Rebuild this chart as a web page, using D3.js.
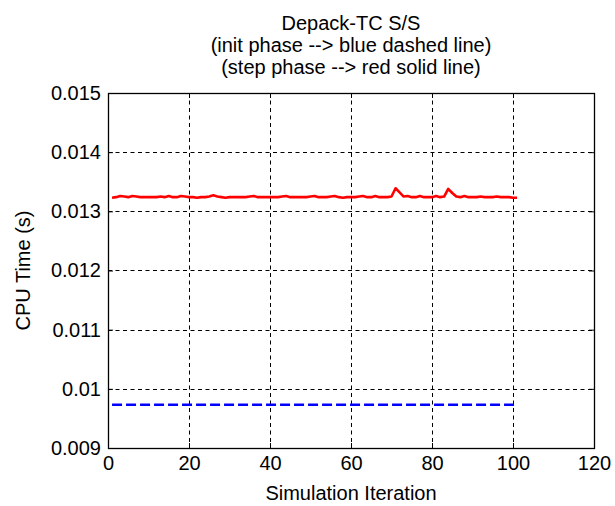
<!DOCTYPE html>
<html>
<head>
<meta charset="utf-8">
<script src="https://cdn.jsdelivr.net/npm/d3@7"></script>
<style>
  body { margin: 0; background: #fff; }
  text { font-family: "Liberation Sans", Arial, sans-serif; fill: #000; }
</style>
</head>
<body>
<script>
var titleLines = ["Depack-TC S/S",
                  "(init phase --> blue dashed line)",
                  "(step phase --> red solid line)"];
var xLabel = "Simulation Iteration",
    yLabel = "CPU Time (s)";
var xTicks = [0, 20, 40, 60, 80, 100, 120];
var yTicks = [0.009, 0.01, 0.011, 0.012, 0.013, 0.014, 0.015];
var yTickLabels = ["0.009", "0.01", "0.011", "0.012", "0.013", "0.014", "0.015"];

var iterations = [
  1, 2, 3, 4, 5, 6, 7, 8, 9, 10,
  11, 12, 13, 14, 15, 16, 17, 18, 19, 20,
  21, 22, 23, 24, 25, 26, 27, 28, 29, 30,
  31, 32, 33, 34, 35, 36, 37, 38, 39, 40,
  41, 42, 43, 44, 45, 46, 47, 48, 49, 50,
  51, 52, 53, 54, 55, 56, 57, 58, 59, 60,
  61, 62, 63, 64, 65, 66, 67, 68, 69, 70,
  71, 72, 73, 74, 75, 76, 77, 78, 79, 80,
  81, 82, 83, 84, 85, 86, 87, 88, 89, 90,
  91, 92, 93, 94, 95, 96, 97, 98, 99, 100, 101];

// step phase (red solid)
var stepTimes = [
  0.01323, 0.01324, 0.01326, 0.01325, 0.01324, 0.01326, 0.01325, 0.01324, 0.01324, 0.01324,
  0.01324, 0.01324, 0.01325, 0.01324, 0.01326, 0.01324, 0.01324, 0.01326, 0.01325, 0.01324,
  0.01324, 0.01323, 0.01324, 0.01324, 0.01325, 0.01327, 0.01325, 0.01324, 0.01323, 0.01324,
  0.01324, 0.01324, 0.01324, 0.01324, 0.01325, 0.01326, 0.01324, 0.01324, 0.01324, 0.01324,
  0.01324, 0.01324, 0.01325, 0.01326, 0.01324, 0.01324, 0.01324, 0.01324, 0.01324, 0.01325,
  0.01326, 0.01324, 0.01324, 0.01324, 0.01325, 0.01326, 0.01324, 0.01323, 0.01324, 0.01324,
  0.01324, 0.01325, 0.01326, 0.01324, 0.01324, 0.01326, 0.01324, 0.01324, 0.01324, 0.01325,
  0.01339, 0.01332, 0.01325, 0.01326, 0.01324, 0.01324, 0.01326, 0.01324, 0.01324, 0.01324,
  0.01326, 0.01324, 0.01325, 0.01338, 0.01331, 0.01325, 0.01324, 0.01326, 0.01324, 0.01324,
  0.01324, 0.01325, 0.01324, 0.01324, 0.01324, 0.01325, 0.01324, 0.01324, 0.01324, 0.01323, 0.01323];

// init phase (blue dashed)
var initTimes = [
  0.00973, 0.00973, 0.00973, 0.00973, 0.00973, 0.00973, 0.00973, 0.00973, 0.00973, 0.00973,
  0.00973, 0.00973, 0.00973, 0.00973, 0.00973, 0.00973, 0.00973, 0.00973, 0.00973, 0.00973,
  0.00973, 0.00973, 0.00973, 0.00973, 0.00973, 0.00973, 0.00973, 0.00973, 0.00973, 0.00973,
  0.00973, 0.00973, 0.00973, 0.00973, 0.00973, 0.00973, 0.00973, 0.00973, 0.00973, 0.00973,
  0.00973, 0.00973, 0.00973, 0.00973, 0.00973, 0.00973, 0.00973, 0.00973, 0.00973, 0.00973,
  0.00973, 0.00973, 0.00973, 0.00973, 0.00973, 0.00973, 0.00973, 0.00973, 0.00973, 0.00973,
  0.00973, 0.00973, 0.00973, 0.00973, 0.00973, 0.00973, 0.00973, 0.00973, 0.00973, 0.00973,
  0.00973, 0.00973, 0.00973, 0.00973, 0.00973, 0.00973, 0.00973, 0.00973, 0.00973, 0.00973,
  0.00973, 0.00973, 0.00973, 0.00973, 0.00973, 0.00973, 0.00973, 0.00973, 0.00973, 0.00973,
  0.00973, 0.00973, 0.00973, 0.00973, 0.00973, 0.00973, 0.00973, 0.00973, 0.00973, 0.00973, 0.00973];

var W = 615, H = 506,
    fontSize = "20px";
// note: "top" is a read-only window global, so use pX names
var pLeft = 108, pRight = 594, pTop = 93, pBottom = 448;

var svg = d3.select("body").append("svg")
    .attr("width", W)
    .attr("height", H);

var x = d3.scaleLinear().domain([0, 120]).range([pLeft, pRight]);
var y = d3.scaleLinear().domain([0.009, 0.015]).range([pBottom, pTop]);

// grid (dotted)
svg.append("g").selectAll("line")
    .data(xTicks.slice(1, -1))
  .enter().append("line")
    .attr("x1", function(d) { return Math.round(x(d)) + 0.5; })
    .attr("x2", function(d) { return Math.round(x(d)) + 0.5; })
    .attr("y1", pTop).attr("y2", pBottom)
    .style("stroke", "#000").style("stroke-dasharray", "4,3.5");

svg.append("g").selectAll("line")
    .data(yTicks.slice(1, -1))
  .enter().append("line")
    .attr("y1", function(d) { return Math.round(y(d)) + 0.5; })
    .attr("y2", function(d) { return Math.round(y(d)) + 0.5; })
    .attr("x1", pLeft).attr("x2", pRight)
    .style("stroke", "#000").style("stroke-dasharray", "4,3.5");

// axes, ticks pointing inward
var xAxis = d3.axisBottom(x).tickValues(xTicks).tickSize(-5).tickPadding(8);
var yAxis = d3.axisLeft(y).tickValues(yTicks).tickSize(-5).tickPadding(7)
    .tickFormat(function(d, i) { return yTickLabels[i]; });

svg.append("g").attr("transform", "translate(0," + pBottom + ")").call(xAxis);
svg.append("g").attr("transform", "translate(" + pLeft + ",0)").call(yAxis);
svg.append("g").attr("transform", "translate(0," + pTop + ")")
    .call(d3.axisTop(x).tickValues(xTicks).tickSize(-5).tickFormat(""));
svg.append("g").attr("transform", "translate(" + pRight + ",0)")
    .call(d3.axisRight(y).tickValues(yTicks).tickSize(-5).tickFormat(""));

svg.selectAll(".domain").remove();
svg.selectAll(".tick line").style("stroke", "#000");
svg.selectAll(".tick text")
    .style("font-size", fontSize)
    .style("font-family", "'Liberation Sans', Arial, sans-serif");

svg.append("rect")
    .attr("x", pLeft + 0.5).attr("y", pTop + 0.5)
    .attr("width", pRight - pLeft).attr("height", pBottom - pTop)
    .style("fill", "none").style("stroke", "#000").style("stroke-width", 1.3);

// series
var line = d3.line()
    .x(function(d) { return x(d[0]); })
    .y(function(d) { return y(d[1]); });

svg.append("path")
    .datum(d3.zip(iterations, initTimes))
    .attr("d", line)
    .style("fill", "none").style("stroke", "#0000ff")
    .style("stroke-width", 2.6).style("stroke-dasharray", "10,4");

svg.append("path")
    .datum(d3.zip(iterations, stepTimes))
    .attr("d", line)
    .style("fill", "none").style("stroke", "#ff0000")
    .style("stroke-width", 2.6).style("stroke-linejoin", "round");

// title
svg.append("g").selectAll("text")
    .data(titleLines)
  .enter().append("text")
    .attr("x", (pLeft + pRight) / 2)
    .attr("y", function(d, i) { return 30 + i * 22; })
    .attr("text-anchor", "middle")
    .style("font-size", fontSize)
    .text(String);

svg.append("text")
    .attr("x", (pLeft + pRight) / 2)
    .attr("y", 500)
    .attr("text-anchor", "middle")
    .style("font-size", fontSize)
    .text(xLabel);

svg.append("text")
    .attr("transform", "translate(30," + (pTop + pBottom) / 2 + ") rotate(-90)")
    .attr("text-anchor", "middle")
    .style("font-size", fontSize)
    .text(yLabel);
</script>
</body>
</html>
